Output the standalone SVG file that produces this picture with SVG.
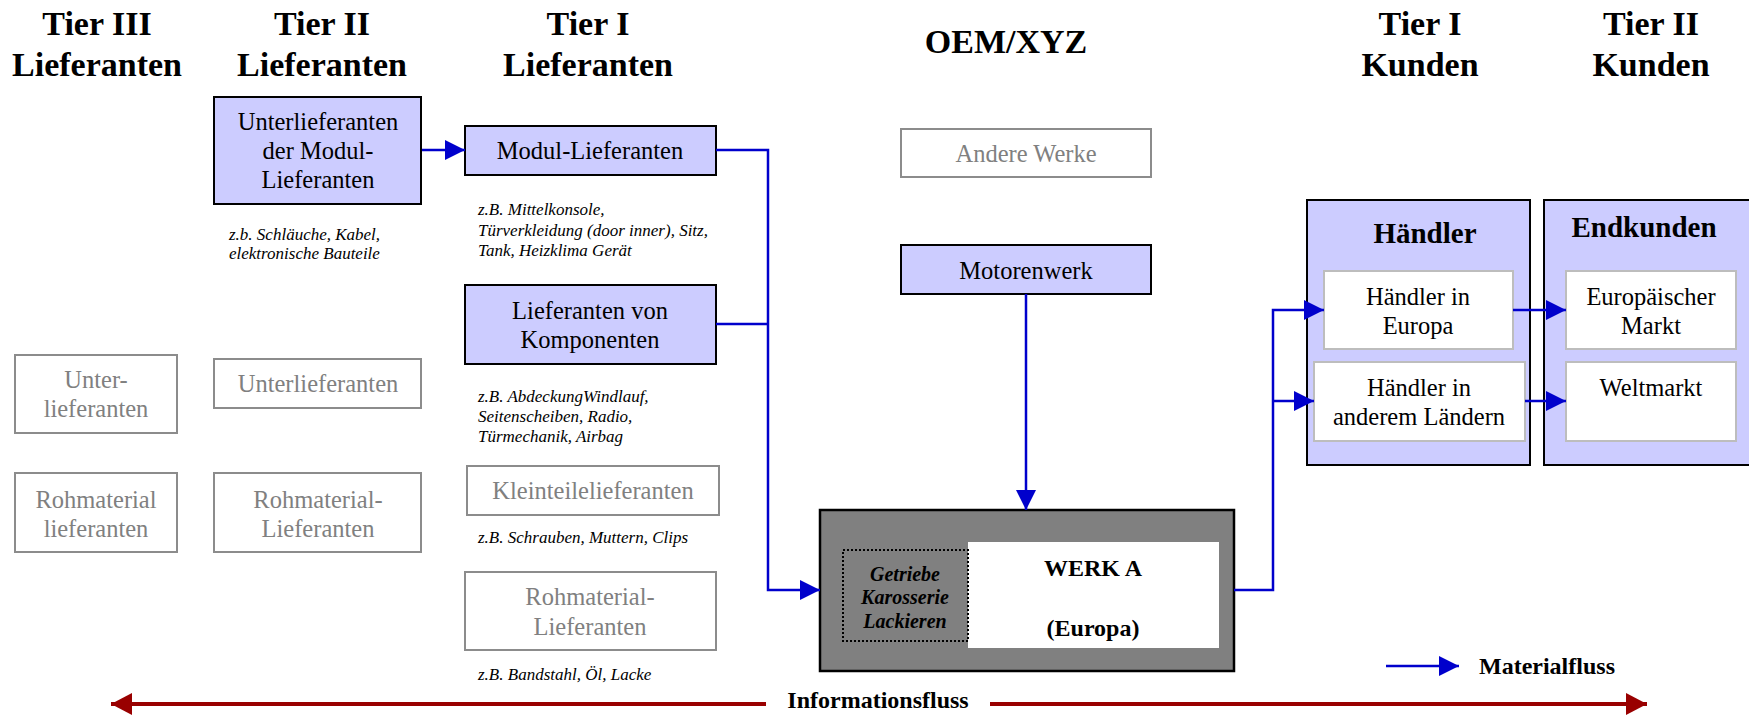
<svg xmlns="http://www.w3.org/2000/svg" width="1749" height="716" viewBox="0 0 1749 716">
<style>
text{font-family:"Liberation Serif","Times New Roman",serif}
.hdr{font-size:34px;font-weight:bold;text-anchor:middle;fill:#000}
.t{font-size:24.5px;text-anchor:middle;fill:#000}
.g{fill:#808080}
.ann{font-size:17px;font-style:italic;fill:#000}
.b{font-weight:bold}
.blue{fill:#CCCCFF;stroke:#000;stroke-width:2}
.gray{fill:#fff;stroke:#8c8c8c;stroke-width:2}
.wht{fill:#fff;stroke:#bdbdbd;stroke-width:2}
.flow{fill:none;stroke:#0000CC;stroke-width:2.5}
.info{fill:none;stroke:#990000;stroke-width:4}
</style>
<defs>
<marker id="ab" viewBox="0 0 20 20" refX="20" refY="10" markerWidth="20" markerHeight="20" markerUnits="userSpaceOnUse" orient="auto"><path d="M0,0 L20,10 L0,20 Z" fill="#0000CC"/></marker>
<marker id="ar" viewBox="0 0 21 22" refX="21" refY="11" markerWidth="21" markerHeight="22" markerUnits="userSpaceOnUse" orient="auto"><path d="M0,0 L21,11 L0,22 Z" fill="#990000"/></marker>
</defs>
<rect width="1749" height="716" fill="#fff"/>

<g id="headers">
<text class="hdr" x="97" y="35">Tier III</text>
<text class="hdr" x="97" y="76">Lieferanten</text>
<text class="hdr" x="322" y="35">Tier II</text>
<text class="hdr" x="322" y="76">Lieferanten</text>
<text class="hdr" x="588" y="35">Tier I</text>
<text class="hdr" x="588" y="76">Lieferanten</text>
<text class="hdr" x="1006" y="53">OEM/XYZ</text>
<text class="hdr" x="1420" y="35">Tier I</text>
<text class="hdr" x="1420" y="76">Kunden</text>
<text class="hdr" x="1651" y="35">Tier II</text>
<text class="hdr" x="1651" y="76">Kunden</text>
</g>

<g id="n-unterlief-modul">
<rect class="blue" x="214" y="97" width="207" height="107"/>
<text class="t" x="318" y="130">Unterlieferanten</text>
<text class="t" x="318" y="159">der Modul-</text>
<text class="t" x="318" y="188">Lieferanten</text>
</g>
<text class="ann" x="229" y="240">z.b. Schläuche, Kabel,</text>
<text class="ann" x="229" y="259">elektronische Bauteile</text>

<g id="n-modul">
<rect class="blue" x="465" y="126" width="251" height="49"/>
<text class="t" x="590" y="159">Modul-Lieferanten</text>
</g>
<text class="ann" x="478" y="215">z.B. Mittelkonsole,</text>
<text class="ann" x="478" y="236">Türverkleidung (door inner), Sitz,</text>
<text class="ann" x="478" y="256">Tank, Heizklima Gerät</text>

<g id="n-komponenten">
<rect class="blue" x="465" y="285" width="251" height="79"/>
<text class="t" x="590" y="319">Lieferanten von</text>
<text class="t" x="590" y="348">Komponenten</text>
</g>
<text class="ann" x="478" y="402">z.B. AbdeckungWindlauf,</text>
<text class="ann" x="478" y="422">Seitenscheiben, Radio,</text>
<text class="ann" x="478" y="442">Türmechanik, Airbag</text>

<g id="n-kleinteile">
<rect class="gray" x="467" y="466" width="252" height="49"/>
<text class="t g" x="593" y="499">Kleinteilelieferanten</text>
</g>
<text class="ann" x="478" y="543">z.B. Schrauben, Muttern, Clips</text>

<g id="n-rohmat-t1">
<rect class="gray" x="465" y="572" width="251" height="78"/>
<text class="t g" x="590" y="605">Rohmaterial-</text>
<text class="t g" x="590" y="635">Lieferanten</text>
</g>
<text class="ann" x="478" y="680">z.B. Bandstahl, Öl, Lacke</text>

<g id="n-unterlief-t3">
<rect class="gray" x="15" y="355" width="162" height="78"/>
<text class="t g" x="96" y="388">Unter-</text>
<text class="t g" x="96" y="417">lieferanten</text>
</g>
<g id="n-unterlief-t2">
<rect class="gray" x="214" y="359" width="207" height="49"/>
<text class="t g" x="318" y="392">Unterlieferanten</text>
</g>
<g id="n-rohmat-t3">
<rect class="gray" x="15" y="473" width="162" height="79"/>
<text class="t g" x="96" y="508">Rohmaterial</text>
<text class="t g" x="96" y="537">lieferanten</text>
</g>
<g id="n-rohmat-t2">
<rect class="gray" x="214" y="473" width="207" height="79"/>
<text class="t g" x="318" y="508">Rohmaterial-</text>
<text class="t g" x="318" y="537">Lieferanten</text>
</g>

<g id="n-andere-werke">
<rect class="gray" x="901" y="129" width="250" height="48"/>
<text class="t g" x="1026" y="162">Andere Werke</text>
</g>
<g id="n-motorenwerk">
<rect class="blue" x="901" y="245" width="250" height="49"/>
<text class="t" x="1026" y="279">Motorenwerk</text>
</g>

<g id="n-werk-a">
<rect x="820" y="510" width="414" height="161" fill="#808080" stroke="#000" stroke-width="2.5"/>
<rect x="968" y="542" width="251" height="106" fill="#fff"/>
<rect x="843" y="550" width="125" height="91" fill="#808080" stroke="#000" stroke-width="2" stroke-dasharray="2,2"/>
<text class="t b" x="1093" y="576" style="font-size:24px">WERK A</text>
<text class="t b" x="1093" y="636" style="font-size:24px">(Europa)</text>
<text class="t b" x="905" y="581" style="font-size:20px;font-style:italic">Getriebe</text>
<text class="t b" x="905" y="604" style="font-size:20px;font-style:italic">Karosserie</text>
<text class="t b" x="905" y="628" style="font-size:20px;font-style:italic">Lackieren</text>
</g>

<g id="n-haendler">
<rect class="blue" x="1307" y="200" width="223" height="265"/>
<text class="t b" x="1425" y="243" style="font-size:29px">Händler</text>
</g>
<g id="n-haendler-europa">
<rect class="wht" x="1324" y="271" width="189" height="78"/>
<text class="t" x="1418" y="305">Händler in</text>
<text class="t" x="1418" y="334">Europa</text>
</g>
<g id="n-haendler-andere">
<rect class="wht" x="1314" y="362" width="211" height="79"/>
<text class="t" x="1419" y="396">Händler in</text>
<text class="t" x="1419" y="425">anderem Ländern</text>
</g>

<g id="n-endkunden">
<rect class="blue" x="1544" y="200" width="210" height="265"/>
<text class="t b" x="1644" y="237" style="font-size:29px">Endkunden</text>
</g>
<g id="n-europ-markt">
<rect class="wht" x="1566" y="271" width="170" height="78"/>
<text class="t" x="1651" y="305">Europäischer</text>
<text class="t" x="1651" y="334">Markt</text>
</g>
<g id="n-weltmarkt">
<rect class="wht" x="1566" y="362" width="170" height="79"/>
<text class="t" x="1651" y="396">Weltmarkt</text>
</g>

<g id="connectors">
<path class="flow" d="M422,150 H465" marker-end="url(#ab)"/>
<path class="flow" d="M716,150 H768 V590 H820" marker-end="url(#ab)"/>
<path class="flow" d="M716,324 H768"/>
<path class="flow" d="M1026,294 V510" marker-end="url(#ab)"/>
<path class="flow" d="M1234,590 H1273 V310 H1324" marker-end="url(#ab)"/>
<path class="flow" d="M1273,401 H1314" marker-end="url(#ab)"/>
<path class="flow" d="M1513,310 H1566" marker-end="url(#ab)"/>
<path class="flow" d="M1525,401 H1566" marker-end="url(#ab)"/>
<path class="flow" d="M1386,666 H1459" marker-end="url(#ab)"/>
<path class="info" d="M766,704 H111" marker-end="url(#ar)"/>
<path class="info" d="M990,704 H1647" marker-end="url(#ar)"/>
</g>

<g id="legend">
<text class="b" x="1479" y="674" style="font-size:24px">Materialfluss</text>
<text class="t b" x="878" y="708" style="font-size:24px">Informationsfluss</text>
</g>
</svg>
